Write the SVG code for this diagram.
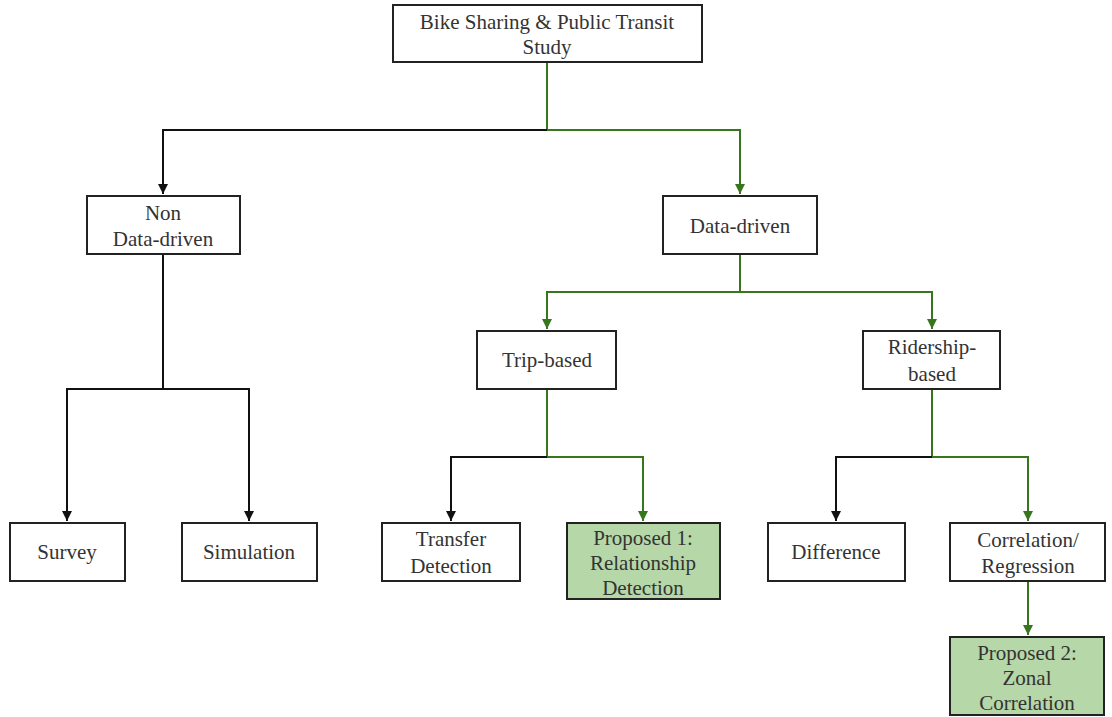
<svg xmlns="http://www.w3.org/2000/svg" width="1112" height="717" viewBox="0 0 1112 717">
<defs>
<marker id="ab" viewBox="0 0 10 10" refX="10" refY="5" markerWidth="5" markerHeight="5" orient="auto" markerUnits="strokeWidth"><path d="M0,0 L10,5 L0,10 z" fill="#111"/></marker>
<marker id="ag" viewBox="0 0 10 10" refX="10" refY="5" markerWidth="5" markerHeight="5" orient="auto" markerUnits="strokeWidth"><path d="M0,0 L10,5 L0,10 z" fill="#38761d"/></marker>
</defs>
<style>
rect{fill:#fff;stroke:#222;stroke-width:2}
rect.p{fill:#b6d7a8}
text{font-family:"Liberation Serif","Times New Roman",serif;font-size:21px;fill:#333;text-anchor:middle}
.c path{fill:none;stroke-width:2}
.k{stroke:#111}
.g{stroke:#38761d}
</style>
<rect x="0" y="0" width="1112" height="717" style="fill:#fff;stroke:none"/>
<g class="c" id="connectors">
<path class="g" d="M547,62 V130"/>
<path class="k" d="M547,130 H163 V194" marker-end="url(#ab)"/>
<path class="g" d="M547,130 H740 V194" marker-end="url(#ag)"/>
<path class="g" d="M740,254 V292"/>
<path class="g" d="M740,292 H547 V329" marker-end="url(#ag)"/>
<path class="g" d="M740,292 H932 V329" marker-end="url(#ag)"/>
<path class="k" d="M163,254 V389"/>
<path class="k" d="M163,389 H67 V521" marker-end="url(#ab)"/>
<path class="k" d="M163,389 H249 V521" marker-end="url(#ab)"/>
<path class="g" d="M547,389 V457"/>
<path class="k" d="M547,457 H451 V521" marker-end="url(#ab)"/>
<path class="g" d="M547,457 H643 V521" marker-end="url(#ag)"/>
<path class="g" d="M932,389 V457"/>
<path class="k" d="M932,457 H836 V521" marker-end="url(#ab)"/>
<path class="g" d="M932,457 H1028 V521" marker-end="url(#ag)"/>
<path class="g" d="M1028,581 V635" marker-end="url(#ag)"/>
</g>
<g id="root"><rect x="393" y="5" width="309" height="57"/><text x="547" y="29">Bike Sharing &amp; Public Transit</text><text x="547" y="54">Study</text></g>
<g id="nondata"><rect x="87" y="196" width="153" height="58"/><text x="163" y="220">Non</text><text x="163" y="246">Data-driven</text></g>
<g id="datadriven"><rect x="663" y="196" width="154" height="58"/><text x="740" y="233">Data-driven</text></g>
<g id="trip"><rect x="477" y="331" width="139" height="58"/><text x="547" y="367">Trip-based</text></g>
<g id="ridership"><rect x="863" y="331" width="137" height="58"/><text x="932" y="354">Ridership-</text><text x="932" y="381">based</text></g>
<g id="survey"><rect x="10" y="523" width="115" height="58"/><text x="67" y="559">Survey</text></g>
<g id="simulation"><rect x="182" y="523" width="135" height="58"/><text x="249" y="559">Simulation</text></g>
<g id="transfer"><rect x="382" y="523" width="138" height="58"/><text x="451" y="546">Transfer</text><text x="451" y="573">Detection</text></g>
<g id="proposed1"><rect class="p" x="567" y="523" width="153" height="76"/><text x="643" y="545">Proposed 1:</text><text x="643" y="570">Relationship</text><text x="643" y="595">Detection</text></g>
<g id="difference"><rect x="768" y="523" width="137" height="58"/><text x="836" y="559">Difference</text></g>
<g id="correlation"><rect x="950" y="523" width="155" height="58"/><text x="1028" y="547">Correlation/</text><text x="1028" y="573">Regression</text></g>
<g id="proposed2"><rect class="p" x="950" y="637" width="154" height="78"/><text x="1027" y="660">Proposed 2:</text><text x="1027" y="685">Zonal</text><text x="1027" y="710">Correlation</text></g>
</svg>
